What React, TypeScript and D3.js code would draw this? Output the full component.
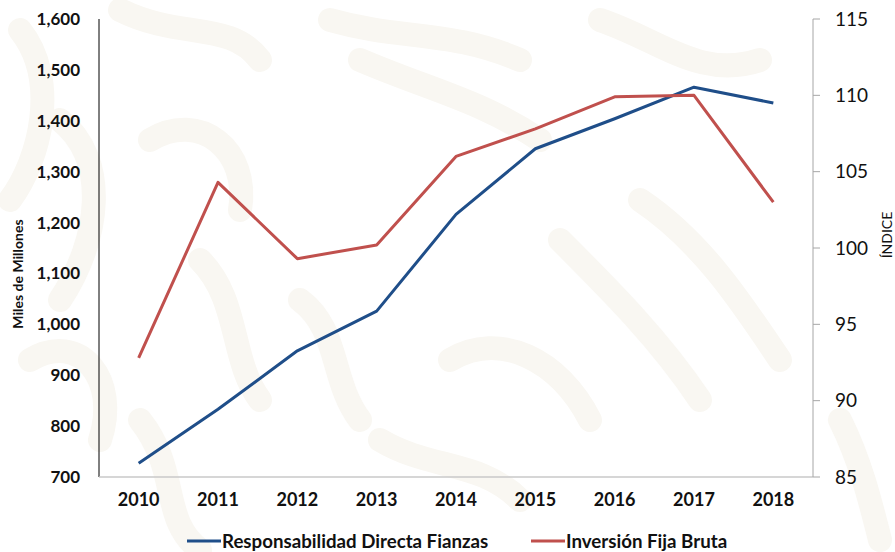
import React from 'react';
import * as d3 from 'd3';

const years = ['2010', '2011', '2012', '2013', '2014', '2015', '2016', '2017', '2018'];
const fianzas = [727, 833, 948, 1026, 1216, 1345, 1404, 1466, 1435];
const inversion = [92.8, 104.3, 99.3, 100.2, 106.0, 107.8, 109.9, 110.0, 103.0];
const leftTicks = [700, 800, 900, 1000, 1100, 1200, 1300, 1400, 1500, 1600];
const rightTicks = [85, 90, 95, 100, 105, 110, 115];

const BLUE = '#1f4e89';
const RED = '#c0504d';
const FONT = 'Lato, "Open Sans", sans-serif';

// faint decorative background strokes
const decor = [
  'M20,30 C60,80 40,160 10,200',
  'M120,10 C180,40 230,20 260,60',
  'M60,120 C110,160 100,240 60,300',
  'M150,140 C200,110 250,150 240,210',
  'M30,360 C80,330 120,380 100,440',
  'M200,260 C240,300 230,360 260,400',
  'M140,420 C180,470 160,520 200,550',
  'M330,20 C400,40 450,30 520,60',
  'M360,60 C430,90 480,100 540,140',
  'M300,300 C340,330 330,380 360,420',
  'M380,440 C430,470 480,460 520,500',
  'M450,360 C500,330 560,360 590,420',
  'M600,20 C660,40 700,80 760,60',
  'M640,200 C700,240 740,300 780,360',
  'M560,240 C610,290 660,340 700,400',
  'M840,420 C860,460 870,500 880,540',
];

export default function App() {
  const margin = { left: 99, right: 813, top: 19, bottom: 477 };
  const x = d3.scalePoint<string>().domain(years).range([margin.left, margin.right]).padding(0.5);
  const yL = d3.scaleLinear().domain([700, 1600]).range([margin.bottom, margin.top]);
  const yR = d3.scaleLinear().domain([85, 115]).range([margin.bottom, margin.top]);

  const lineL = d3.line<number>().x((_, i) => x(years[i])!).y((d) => yL(d));
  const lineR = d3.line<number>().x((_, i) => x(years[i])!).y((d) => yR(d));

  return (
    <svg width={895} height={552} style={{ position: 'absolute', left: 0, top: 0, background: '#fff' }} fontFamily={FONT}>
      <g fill="none" stroke="#f9f7f2" strokeWidth={24} strokeLinecap="round">
        {decor.map((d, i) => (
          <path key={i} d={d} />
        ))}
      </g>

      {/* axes */}
      <line x1={margin.left} x2={margin.left} y1={margin.top} y2={margin.bottom} stroke="#000" strokeWidth={1} />
      <line x1={margin.left} x2={margin.right} y1={margin.bottom} y2={margin.bottom} stroke="#c8c8c8" strokeWidth={1.5} />
      <line x1={margin.right} x2={margin.right} y1={margin.top} y2={margin.bottom} stroke="#a6a6a6" strokeWidth={1} />
      {rightTicks.map((t) => (
        <g key={t}>
          <line x1={margin.right} x2={margin.right + 7} y1={yR(t)} y2={yR(t)} stroke="#a6a6a6" />
          <text x={835} y={yR(t)} dy="0.35em" fontSize={19} fill="#111">
            {t}
          </text>
        </g>
      ))}
      {leftTicks.map((t) => (
        <text key={t} x={80} y={yL(t)} dy="0.35em" textAnchor="end" fontSize={17} fontWeight="bold" fill="#111">
          {d3.format(',')(t)}
        </text>
      ))}
      {years.map((yr) => (
        <text key={yr} x={x(yr)} y={500} dy="0.35em" textAnchor="middle" fontSize={18} fontWeight="bold" fill="#111">
          {yr}
        </text>
      ))}

      <text transform="translate(18,274) rotate(-90)" textAnchor="middle" dy="0.35em" fontSize={14} fontWeight="bold" fill="#111">
        Miles de Millones
      </text>
      <text transform="translate(887,235) rotate(-90)" textAnchor="middle" dy="0.35em" fontSize={14} fill="#111">
        ÍNDICE
      </text>

      <path d={lineL(fianzas)!} fill="none" stroke={BLUE} strokeWidth={3} strokeLinejoin="round" />
      <path d={lineR(inversion)!} fill="none" stroke={RED} strokeWidth={3} strokeLinejoin="round" />

      {/* legend */}
      <line x1={187} x2={221} y1={541} y2={541} stroke={BLUE} strokeWidth={3} />
      <text x={222} y={541} dy="0.35em" fontSize={18.7} fontWeight="bold" fill="#111">
        Responsabilidad Directa Fianzas
      </text>
      <line x1={531} x2={565} y1={541} y2={541} stroke={RED} strokeWidth={3} />
      <text x={566} y={541} dy="0.35em" fontSize={18.7} fontWeight="bold" fill="#111">
        Inversión Fija Bruta
      </text>
    </svg>
  );
}
